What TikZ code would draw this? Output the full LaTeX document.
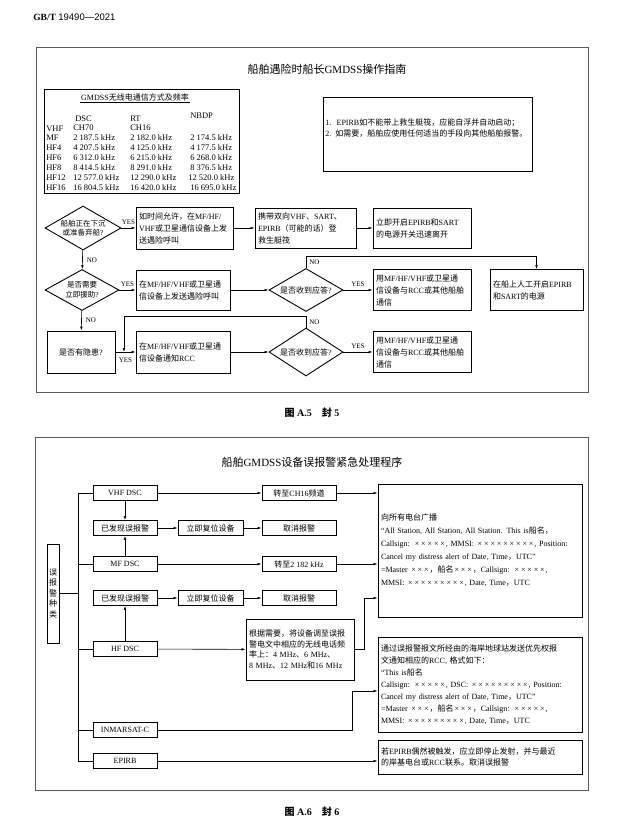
\documentclass[tikz,border=0pt]{standalone}
\usepackage{fontspec}
\setmainfont{Liberation Serif}
\setsansfont{Liberation Sans}
\newfontfamily\cjkfont{Noto Sans CJK SC}
\usetikzlibrary{shapes.geometric,arrows.meta}

% Chinese characters switch to the CJK font by themselves
\XeTeXinterchartokenstate=1
\newXeTeXintercharclass\hanclass
\newcount\hanc
\def\sethan#1#2{\hanc=#1\relax
  \loop\XeTeXcharclass\hanc=\hanclass\relax
    \advance\hanc by 1\relax
  \ifnum\hanc<#2\relax\repeat}
\sethan{"3000}{"3040}
\sethan{"4E00}{"A000}
\sethan{"FF00}{"FFF0}
\XeTeXinterchartoks 0 \hanclass = {\begingroup\cjkfont}
\XeTeXinterchartoks 4095 \hanclass = {\begingroup\cjkfont}
\XeTeXinterchartoks \hanclass 0 = {\endgroup}
\XeTeXinterchartoks \hanclass 4095 = {\endgroup}

\newcommand{\xm}{\makebox[0.8em]{×}}

\begin{document}
\begin{tikzpicture}[x=1pt, y=-1pt, line width=0.6pt,
	>={Latex[length=4pt,width=2.6pt]},
	box/.style={draw, line width=0.9pt, align=left, inner xsep=3pt, inner ysep=1pt, font=\fontsize{8}{12}\selectfont},
	dia/.style={draw, line width=0.9pt, shape=diamond, aspect=1.75, inner sep=0pt, align=center, font=\fontsize{7.5}{9.5}\selectfont},
	sbox/.style={draw, line width=0.9pt, minimum width=64pt, minimum height=15pt, inner sep=0pt, font=\fontsize{8}{10}\selectfont},
	big/.style={draw, line width=0.9pt, text width=198pt, align=left, inner xsep=3pt, inner ysep=2pt, font=\fontsize{8}{12}\selectfont},
	lab/.style={inner sep=0pt, font=\fontsize{7}{8}\selectfont},
	tab/.style={anchor=west, inner sep=0pt, font=\fontsize{8.5}{9}\selectfont},
	frm/.style={draw=black!65, line width=0.9pt}]
	\path[fill=white] (0,0) rectangle (634,832);
	\useasboundingbox (0,0) rectangle (634,832);
	
	\draw (33,17) node[anchor=west, inner sep=0pt, font=\fontsize{9.5}{10}\selectfont](hdr){\textbf{GB/T} {\sffamily 19490—2021}};
	
	% figure A.5
	\draw[frm] (36,47) rectangle (588,392);
	\draw (327,69) node[font=\fontsize{11}{12}\selectfont](t5){船舶遇险时船长GMDSS操作指南};
	
	\draw[line width=0.9pt] (44,89) rectangle (239,193);
	\draw (135,97) node[inner sep=1pt, font=\fontsize{8}{9}\selectfont](tabt){GMDSS无线电通信方式及频率};
	\draw (tabt.south west) -- (tabt.south east);
	\draw (75,119) node[tab](hdsc){DSC};
	\draw (130,119) node[tab](hrt){RT};
	\draw (190,116) node[tab](hnbdp){NBDP};
	\draw (46,129) node[tab](vhf){VHF};
	\draw (73,128) node[tab](vhfdsc){CH70};
	\draw (130,128) node[tab](vhfrt){CH16};
	\draw (46,138) node[tab](mf){MF};
	\draw (73,138) node[tab](mfdsc){2 187.5 kHz};
	\draw (130,138) node[tab](mfrt){2 182.0 kHz};
	\draw (190,138) node[tab](mfnb){2 174.5 kHz};
	\draw (46,148) node[tab](hf4){HF4};
	\draw (73,148) node[tab](hf4dsc){4 207.5 kHz};
	\draw (130,148) node[tab](hf4rt){4 125.0 kHz};
	\draw (190,148) node[tab](hf4nb){4 177.5 kHz};
	\draw (46,158) node[tab](hf6){HF6};
	\draw (73,158) node[tab](hf6dsc){6 312.0 kHz};
	\draw (130,158) node[tab](hf6rt){6 215.0 kHz};
	\draw (190,158) node[tab](hf6nb){6 268.0 kHz};
	\draw (46,168) node[tab](hf8){HF8};
	\draw (73,168) node[tab](hf8dsc){8 414.5 kHz};
	\draw (130,168) node[tab](hf8rt){8 291.0 kHz};
	\draw (190,168) node[tab](hf8nb){8 376.5 kHz};
	\draw (46,178) node[tab](hf12){HF12};
	\draw (73,178) node[tab](hf12dsc){12 577.0 kHz};
	\draw (130,178) node[tab](hf12rt){12 290.0 kHz};
	\draw (188,178) node[tab](hf12nb){12 520.0 kHz};
	\draw (46,188) node[tab](hf16){HF16};
	\draw (73,188) node[tab](hf16dsc){16 804.5 kHz};
	\draw (130,188) node[tab](hf16rt){16 420.0 kHz};
	\draw (190,188) node[tab](hf16nb){16 695.0 kHz};
	
	\draw[line width=0.9pt] (323,97) rectangle (532,171);
	\draw (325,128.5) node[anchor=west, inner sep=0pt, align=left, text width=205pt, font=\fontsize{8}{11}\selectfont](note){1.\ \ EPIRB如不能带上救生艇筏，应能自浮并自动启动；\\2. 如需要，船舶应使用任何适当的手段向其他船舶报警。};
	
	\draw (83,228) node[dia, text width=45pt, minimum width=76pt, minimum height=44pt](sink){船舶正在下沉\\或准备弃船?};
	\draw (184.5,228) node[box, text width=91pt, minimum height=42pt](call1){如时间允许，在MF/HF/\\VHF或卫星通信设备上发\\送遇险呼叫};
	\draw (305.5,228) node[box, text width=95pt, minimum height=40pt](raft){携带双向VHF、SART、\\EPIRB（可能的话）登\\救生艇筏};
	\draw (422,228) node[box, text width=92pt, minimum height=40pt](leave){立即开启EPIRB和SART\\的电源开关迅速离开};
	
	\draw (82,290) node[dia, text width=40pt, minimum width=74pt, minimum height=41pt](help){是否需要\\立即援助?};
	\draw (183,290) node[box, text width=88pt, minimum height=40pt](call2){在MF/HF/VHF或卫星通\\信设备上发送遇险呼叫};
	\draw (306,290) node[dia, text width=52pt, minimum width=74pt, minimum height=43pt, font=\fontsize{8}{10}\selectfont](ans1){是否收到应答?};
	\draw (422,290) node[box, text width=92pt, minimum height=41pt](talk1){用MF/HF/VHF或卫星通\\信设备与RCC或其他船舶\\通信};
	\draw (536.5,290) node[box, text width=87pt, minimum height=41pt](manual){在船上人工开启EPIRB\\和SART的电源};
	
	\draw (81,352) node[box, text width=62pt, minimum height=42pt, align=center](risk){是否有隐患?};
	\draw (183,352) node[box, text width=88pt, minimum height=42pt](rcc){在MF/HF/VHF或卫星通\\信设备通知RCC};
	\draw (306,352) node[dia, text width=52pt, minimum width=74pt, minimum height=48pt, font=\fontsize{8}{10}\selectfont](ans2){是否收到应答?};
	\draw (422,352) node[box, text width=92pt, minimum height=41pt](talk2){用MF/HF/VHF或卫星通\\信设备与RCC或其他船舶\\通信};
	\coordinate (join) at (124,352);
	
	\draw [->](sink) -- node[lab, above=3pt]{YES} (call1);
	\draw [->](call1) -- (raft);
	\draw [->](raft) -- (leave);
	\draw [->](sink) -- node[lab, right=4pt]{NO} (help);
	\draw [->](help) -- node[lab, above=3pt]{YES} (call2);
	\draw [->](call2) -- (ans1);
	\draw [->](ans1) -- node[lab, above=3pt]{YES} (talk1);
	\draw [->](ans1.north) -- node[lab, right=3pt]{NO} ++(0,-12) -| (manual.north);
	\draw [->](help) -- node[lab, right=4pt]{NO} (risk);
	\draw [->](risk) -- node[lab, below=6pt]{YES} (rcc);
	\draw [->](ans2.north) -- node[lab, right=3pt]{NO} ++(0,-11) -| (join);
	\draw [->](rcc) -- (ans2);
	\draw [->](ans2) -- node[lab, above=3pt]{YES} (talk2);
	
	\draw (312,413) node[font=\bfseries\fontsize{10}{12}\selectfont](cap5){图 A.5\quad 封 5};
	
	% figure A.6
	\draw[frm] (35,437) rectangle (588,790);
	\draw (312,462) node[font=\fontsize{11}{12}\selectfont](t6){船舶GMDSS设备误报警紧急处理程序};
	
	\draw (53,593.5) node[draw, line width=0.9pt, text width=12pt, minimum height=99pt, align=center, inner sep=0pt, font=\fontsize{8}{10.5}\selectfont](kind){误\\报\\警\\种\\类};
	
	\draw (125,493) node[sbox](vhfdsc){VHF DSC};
	\draw (125,528) node[sbox](seen1){已发现误报警};
	\draw (125,564) node[sbox](mfdsc){MF DSC};
	\draw (125,598) node[sbox](seen2){已发现误报警};
	\draw (125,649) node[sbox](hfdsc){HF DSC};
	\draw (125,730) node[sbox](inm){INMARSAT-C};
	\draw (125,761) node[sbox](epirb){EPIRB};
	\draw (210.5,528) node[sbox, minimum width=65pt](reset1){立即复位设备};
	\draw (210.5,598) node[sbox, minimum width=65pt](reset2){立即复位设备};
	\draw (299,493) node[sbox, minimum width=74pt](ch16){转至CH16频道};
	\draw (299,528) node[sbox, minimum width=74pt](cancel1){取消报警};
	\draw (299,564) node[sbox, minimum width=74pt](f2182){转至2 182 kHz};
	\draw (299,598) node[sbox, minimum width=74pt](cancel2){取消报警};
	\draw (300,649.5) node[box, text width=102pt, minimum height=61pt, font=\fontsize{8}{10.5}\selectfont](tune){根据需要，将设备调至误报\\警电文中相应的无线电话频\\率上：4 MHz、6 MHz、\\8 MHz、12 MHz和16 MHz};
	
	\draw (480,550.5) node[big, minimum height=133pt, font=\fontsize{8}{13}\selectfont](bcast){向所有电台广播\\“All Station, All Station, All Station. This is船名，\\Callsign: \xm\xm\xm\xm\xm, MMSI: \xm\xm\xm\xm\xm\xm\xm\xm\xm, Position:\\Cancel my distress alert of Date, Time，UTC”\\=Master \xm\xm\xm，船名\xm\xm\xm，Callsign: \xm\xm\xm\xm\xm,\\MMSI: \xm\xm\xm\xm\xm\xm\xm\xm\xm, Date, Time，UTC};
	\draw (480,684.5) node[big, minimum height=95pt](coast){通过误报警报文所经由的海岸地球站发送优先权报\\文通知相应的RCC, 格式如下：\\“This is船名\\Callsign: \xm\xm\xm\xm\xm, DSC: \xm\xm\xm\xm\xm\xm\xm\xm\xm, Position:\\Cancel my distress alert of Date, Time，UTC”\\=Master \xm\xm\xm，船名\xm\xm\xm，Callsign: \xm\xm\xm\xm\xm,\\MMSI: \xm\xm\xm\xm\xm\xm\xm\xm\xm, Date, Time，UTC};
	\draw (480,757) node[big, minimum height=34pt, font=\fontsize{8}{11}\selectfont](stop){若EPIRB偶然被触发，应立即停止发射，并与最近\\的岸基电台或RCC联系。取消误报警};
	
	\coordinate (trunk) at (78,0);
	\coordinate (tj) at (364,598);
	\coordinate (ij) at (352,691);
	\draw (vhfdsc.west) -- (vhfdsc.west -| trunk) -- (epirb.west -| trunk) -- (epirb.west);
	\draw (mfdsc.west) -- (mfdsc.west -| trunk);
	\draw (hfdsc.west) -- (hfdsc.west -| trunk);
	\draw (inm.west) -- (inm.west -| trunk);
	\draw (kind.east) -- (kind.east -| trunk);
	
	\draw [->](vhfdsc) -- (ch16);
	\draw [->](ch16) -- (ch16.east -| bcast.west);
	\draw [->](vhfdsc) -- (seen1);
	\draw [->](mfdsc) -- (seen1);
	\draw [->](seen1) -- (reset1);
	\draw [->](reset1) -- (cancel1);
	\draw [->](mfdsc) -- (f2182);
	\draw [->](f2182) -- (f2182.east -| bcast.west);
	\draw [->](hfdsc) -- (seen2);
	\draw [->](seen2) -- (reset2);
	\draw [->](reset2) -- (cancel2);
	\draw [->](hfdsc) -- (tune);
	\draw [->](tune.east) -| (tj) -- (tj -| bcast.west);
	\draw [->](inm.east) -| (ij) -- (ij -| coast.west);
	\draw [->](epirb) -- (epirb -| stop.west);
	
	\draw (312,812) node[font=\bfseries\fontsize{10}{12}\selectfont](cap6){图 A.6\quad 封 6};
\end{tikzpicture}
\end{document}
